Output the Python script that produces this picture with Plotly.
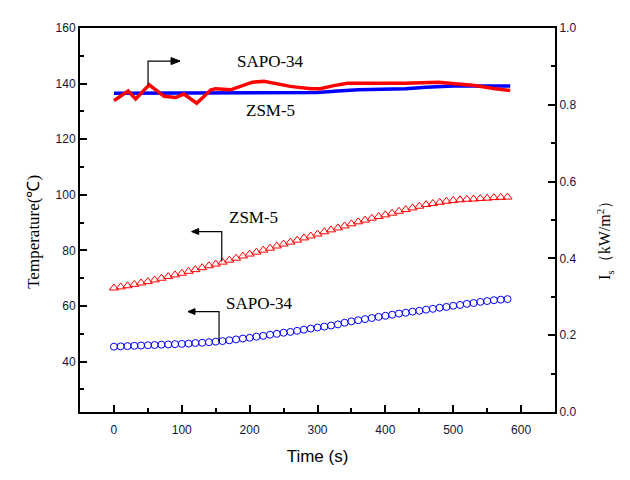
import plotly.graph_objects as go

# ---- data ----
time_s = [0, 10, 20, 30, 40, 50, 60, 70, 80, 90, 100, 110, 120, 130, 140, 150, 160, 170, 180, 190,
          200, 210, 220, 230, 240, 250, 260, 270, 280, 290, 300, 310, 320, 330, 340, 350, 360, 370,
          380, 390, 400, 410, 420, 430, 440, 450, 460, 470, 480, 490, 500, 510, 520, 530, 540, 550,
          560, 570, 580]

temp_zsm5 = [66.5, 66.9, 67.3, 67.8, 68.3, 68.8, 69.4, 70.0, 70.6, 71.2, 71.8, 72.5, 73.1, 73.8, 74.5,
             75.1, 75.8, 76.5, 77.2, 78.0, 78.7, 79.4, 80.1, 80.8, 81.6, 82.3, 83.0, 83.7, 84.5, 85.2,
             85.9, 86.7, 87.4, 88.1, 88.8, 89.6, 90.3, 90.9, 91.6, 92.2, 92.8, 93.4, 94.1, 94.7, 95.3,
             95.9, 96.5, 96.9, 97.3, 97.7, 98.0, 98.2, 98.4, 98.5, 98.7, 98.8, 99.0, 99.1, 99.2]

temp_sapo34 = [45.4, 45.5, 45.6, 45.7, 45.8, 45.9, 46.0, 46.1, 46.2, 46.3, 46.4, 46.5, 46.7, 46.8, 47.0,
               47.2, 47.4, 47.7, 48.0, 48.3, 48.6, 49.0, 49.3, 49.7, 50.0, 50.4, 50.7, 51.1, 51.5, 51.9,
               52.3, 52.6, 53.0, 53.4, 54.0, 54.5, 54.9, 55.3, 55.7, 56.1, 56.5, 56.9, 57.3, 57.6, 58.0,
               58.3, 58.7, 59.0, 59.4, 59.7, 60.1, 60.4, 60.8, 61.1, 61.5, 61.8, 62.1, 62.3, 62.5]

irr_zsm5_t = [0, 100, 200, 240, 300, 330, 360, 430, 460, 500, 584]
irr_zsm5 = [0.830, 0.831, 0.831, 0.832, 0.832, 0.836, 0.839, 0.842, 0.846, 0.849, 0.849]

irr_sapo34_t = [0, 21, 32, 52, 74, 91, 103, 122, 143, 150, 172, 190, 204, 221, 241, 260, 290, 304,
                324, 344, 417, 429, 478, 503, 532, 562, 584]
irr_sapo34 = [0.811, 0.836, 0.815, 0.852, 0.822, 0.819, 0.828, 0.804, 0.839, 0.842, 0.839, 0.850,
              0.859, 0.861, 0.855, 0.848, 0.842, 0.842, 0.850, 0.856, 0.856, 0.856, 0.859, 0.855,
              0.850, 0.842, 0.837]

left_ticks = [40, 60, 80, 100, 120, 140, 160]
right_ticks = [0.0, 0.2, 0.4, 0.6, 0.8, 1.0]
x_ticks = [0, 100, 200, 300, 400, 500, 600]

serif = "Liberation Serif, Times New Roman, serif"
sans = "Liberation Sans, Arial, sans-serif"
tickcol = "#14143c"

fig = go.Figure()

fig.add_trace(go.Scatter(x=time_s, y=temp_zsm5, mode="markers", name="ZSM-5 T",
                         marker=dict(symbol="triangle-up-open", size=8, color="#ff0000",
                                     line=dict(width=1, color="#ff0000"))))
fig.add_trace(go.Scatter(x=time_s, y=temp_sapo34, mode="markers", name="SAPO-34 T",
                         marker=dict(symbol="circle-open", size=7, color="#0000ff",
                                     line=dict(width=1, color="#0000ff"))))
fig.add_trace(go.Scatter(x=irr_zsm5_t, y=irr_zsm5, mode="lines", name="ZSM-5 Is", yaxis="y2",
                         line=dict(color="#0000ff", width=3.5)))
fig.add_trace(go.Scatter(x=irr_sapo34_t, y=irr_sapo34, mode="lines", name="SAPO-34 Is", yaxis="y2",
                         line=dict(color="#ff0000", width=3.5)))

# labels
txt = dict(font=dict(family=serif, size=17, color="black"), showarrow=False, xref="x", yref="y")
fig.add_annotation(x=231, y=148.1, text="SAPO-34", **txt)
fig.add_annotation(x=231, y=130.5, text="ZSM-5", **txt)
fig.add_annotation(x=205, y=91.7, text="ZSM-5", **txt)
fig.add_annotation(x=215, y=61.1, text="SAPO-34", **txt)

# axis titles placed as in the reference
fig.add_annotation(xref="paper", yref="paper", x=-0.097, y=0.469, text="Temperature(℃)",
                   textangle=-90, showarrow=False, xanchor="center", yanchor="middle",
                   font=dict(family=serif, size=17, color="black"))
fig.add_annotation(xref="paper", yref="paper", x=1.105, y=0.458,
                   text="I<sub>s</sub>（kW/m<sup>2</sup>）", textangle=-90, showarrow=False,
                   xanchor="center", yanchor="middle",
                   font=dict(family=serif, size=16, color="black"))

# arrows: elbow lines + filled heads (heads sized in pixels)
ln = dict(color="black", width=1.2)
elbows = [
    ([50.3, 50.3, 97.4], [139.5, 148.1, 148.1]),
    ([158.9, 158.9, 114.6], [76.0, 86.8, 86.8]),
    ([154.9, 154.9, 109.2], [47.2, 58.0, 58.0]),
]
for xs, ys in elbows:
    fig.add_shape(type="path", xref="x", yref="y",
                  path=f"M{xs[0]},{ys[0]} L{xs[1]},{ys[1]} L{xs[2]},{ys[2]}", line=ln)

head = dict(type="path", xref="x", yref="y", xsizemode="pixel", ysizemode="pixel",
            fillcolor="black", line=dict(color="black", width=1))
fig.add_shape(xanchor=97.4, yanchor=148.1, path="M0,0 L-9,3.5 L-9,-3.5 Z", **head)
fig.add_shape(xanchor=114.6, yanchor=86.8, path="M0,0 L7,3 L7,-3 Z", **head)
fig.add_shape(xanchor=109.2, yanchor=58.0, path="M0,0 L7,3 L7,-3 Z", **head)

fig.update_layout(
    width=630, height=480,
    margin=dict(l=80, r=75, t=28, b=68),
    plot_bgcolor="white", paper_bgcolor="white",
    showlegend=False,
    xaxis=dict(range=[-50, 650], tickvals=x_ticks, ticks="inside", ticklen=7, tickwidth=2,
               tickcolor="black", showline=True, linecolor="black", linewidth=2, mirror=True,
               showgrid=False, zeroline=False, automargin=False, ticklabelstandoff=6,
               minor=dict(dtick=50, tick0=0, ticks="inside", ticklen=4, tickwidth=1.5, tickcolor="black"),
               tickfont=dict(family=sans, size=12, color=tickcol),
               title=dict(text="Time (s)", font=dict(family=sans, size=17, color="black"), standoff=14)),
    yaxis=dict(range=[21.9, 160], tickvals=left_ticks, ticks="inside", ticklen=7, tickwidth=2,
               tickcolor="black", showline=True, linecolor="black", linewidth=2,
               showgrid=False, zeroline=False, automargin=False,
               minor=dict(dtick=10, tick0=0, ticks="inside", ticklen=4, tickwidth=1.5, tickcolor="black"),
               tickfont=dict(family=sans, size=12, color=tickcol)),
    yaxis2=dict(range=[0, 1.0], tickvals=right_ticks, tickformat=".1f", overlaying="y", side="right",
                ticks="inside", ticklen=7, tickwidth=2, tickcolor="black", automargin=False,
                showline=True, linecolor="black", linewidth=2, showgrid=False, zeroline=False,
                minor=dict(dtick=0.1, tick0=0, ticks="inside", ticklen=4, tickwidth=1.5, tickcolor="black"),
                tickfont=dict(family=sans, size=12, color=tickcol)),
)

fig.write_html("out.html", post_script="document.body.style.margin='0';",
               config={"displayModeBar": False})
